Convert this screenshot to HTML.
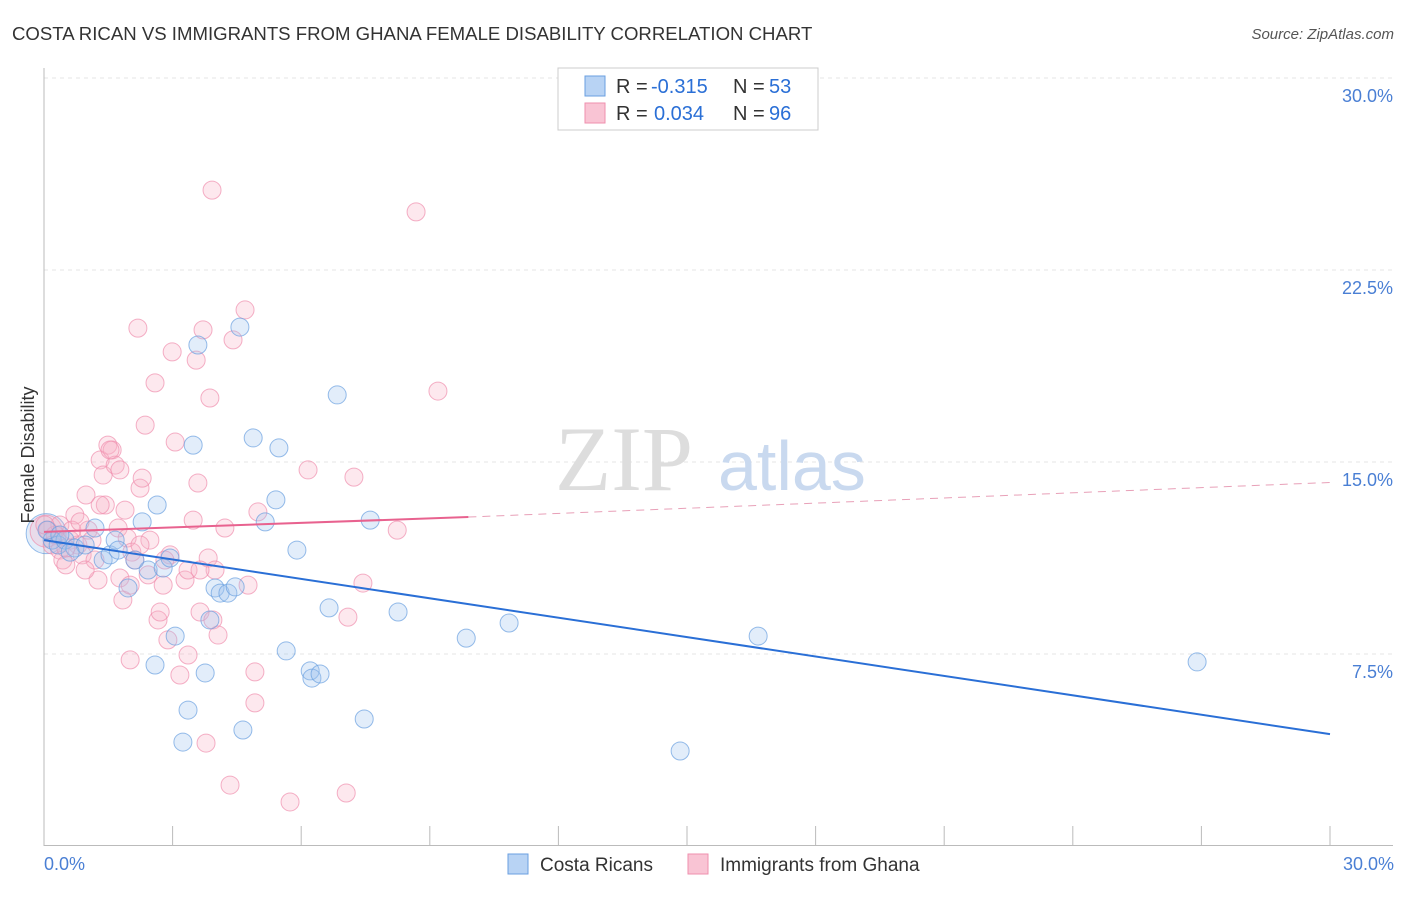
<!DOCTYPE html>
<html><head><meta charset="utf-8"><style>
body{margin:0;background:#fff;font-family:"Liberation Sans",sans-serif;}
svg text{font-family:"Liberation Sans",sans-serif;}
</style></head><body>
<svg width="1406" height="892" viewBox="0 0 1406 892" xmlns="http://www.w3.org/2000/svg">
<text x="12" y="40" font-size="18.6" fill="#333">COSTA RICAN VS IMMIGRANTS FROM GHANA FEMALE DISABILITY CORRELATION CHART</text>
<text x="1394" y="39" font-size="15" fill="#555" font-style="italic" text-anchor="end">Source: ZipAtlas.com</text>
<g id="grid"></g>
<g id="axes"></g>
<text x="555" y="490" font-size="92" fill="#ddd" style="font-family:'Liberation Serif',serif">ZIP</text>
<text x="718" y="490" font-size="70" fill="#c9d9ef">atlas</text>
<g id="pts"></g>
<g id="lines"></g>
<text x="-455" y="34" transform="rotate(-90)" font-size="18" fill="#333" text-anchor="middle">Female Disability</text>
<text x="44" y="870" font-size="18" fill="#4a7fd4">0.0%</text>
<text x="1394" y="870" font-size="18" fill="#4a7fd4" text-anchor="end">30.0%</text>
<g>
<rect x="558" y="68" width="260" height="62" fill="#fff" stroke="#ccc"/>
<rect x="585" y="76" width="20" height="20" fill="#b8d3f4" stroke="#6a9fe0"/>
<rect x="585" y="103" width="20" height="20" fill="#f9c4d4" stroke="#ef8fae"/>
<text x="616" y="93" font-size="20" fill="#333">R =</text>
<text x="651" y="93" font-size="20" fill="#2a6fd6">-0.315</text>
<text x="733" y="93" font-size="20" fill="#333">N =</text>
<text x="769" y="93" font-size="20" fill="#2a6fd6">53</text>
<text x="616" y="120" font-size="20" fill="#333">R =</text>
<text x="654" y="120" font-size="20" fill="#2a6fd6">0.034</text>
<text x="733" y="120" font-size="20" fill="#333">N =</text>
<text x="769" y="120" font-size="20" fill="#2a6fd6">96</text>
</g>
<g>
<rect x="508" y="854" width="20" height="20" fill="#b8d3f4" stroke="#6a9fe0"/>
<text x="540" y="871" font-size="19" fill="#333">Costa Ricans</text>
<rect x="688" y="854" width="20" height="20" fill="#f9c4d4" stroke="#ef8fae"/>
<text x="720" y="871" font-size="19" fill="#333">Immigrants from Ghana</text>
</g>
</svg>
<script>
const yTicks=[7.5,15,22.5,30];
const yTickLabels=["7.5%","15.0%","22.5%","30.0%"];
const blueX=[0.19,0.33,0.49,0.72,0.96,1.19,1.38,1.54,1.66,1.73,1.96,2.12,2.29,2.43,2.59,2.64,2.78,2.94,3.06,3.24,3.36,3.48,3.59,3.76,3.87,3.99,4.11,4.29,4.46,4.57,4.64,4.88,5.16,5.41,5.48,5.65,5.90,6.21,6.25,6.44,6.65,6.84,7.47,7.61,8.26,9.85,10.85,14.84,16.66,26.90,0.07,0.37,0.61];
const blueY=[11.95,11.76,11.95,11.64,11.76,12.42,11.17,11.37,11.95,11.56,10.08,11.17,12.66,10.78,7.07,13.32,10.86,11.25,8.20,4.06,5.31,15.66,19.57,6.76,8.83,10.08,9.88,9.88,10.12,20.27,4.53,15.94,12.66,13.52,15.55,7.62,11.56,6.84,6.56,6.72,9.30,17.62,4.96,12.73,9.14,8.12,8.71,3.71,8.20,7.19,12.34,12.15,11.48];
const pinkX=[0.09,0.19,0.26,0.37,0.44,0.51,0.61,0.72,0.79,0.89,0.98,1.03,1.12,1.19,1.26,1.31,1.38,1.43,1.49,1.59,1.66,1.73,1.77,1.84,1.89,1.94,2.01,2.05,2.12,2.19,2.24,2.29,2.36,2.43,2.59,2.66,2.71,2.78,2.89,2.94,2.99,3.06,3.17,3.29,3.36,3.48,3.55,3.59,3.64,3.71,3.78,3.83,3.87,3.92,3.94,3.99,4.06,4.22,4.34,4.41,4.69,4.76,4.92,4.92,4.99,5.74,6.16,7.05,7.09,7.23,7.44,8.24,8.68,9.19,0.37,0.51,0.65,0.84,0.96,1.54,1.31,2.47,2.82,3.36,1.77,2.01,2.24,3.64,0.02];
const pinkY=[12.34,11.76,12.15,11.56,11.17,10.98,11.95,12.93,11.76,11.37,13.71,12.34,11.95,11.17,10.39,15.08,14.49,13.32,15.66,15.47,14.88,12.42,10.47,9.61,13.12,12.03,7.27,11.48,11.17,20.23,13.98,14.37,16.44,10.59,18.09,8.83,9.14,10.19,8.05,11.37,19.30,15.78,6.68,10.39,7.46,12.73,18.98,14.18,9.14,20.16,4.02,11.25,17.50,25.62,8.83,10.78,8.24,12.42,2.38,19.77,20.94,10.19,6.80,5.59,13.05,1.72,14.69,2.07,8.94,14.41,10.27,12.34,24.77,17.77,12.54,11.64,12.34,12.66,10.78,15.47,13.32,11.95,11.17,10.78,14.69,10.19,11.76,10.78,12.54];
const blueLineX=[0,30], blueLineY=[11.95,4.37];
const pinkLineX=[0,9.9,30], pinkLineY=[12.27,12.85,14.2];
const NS="http://www.w3.org/2000/svg";
const X0=44,X1=1330,Y0=846,Y1=78;
const sx=v=>X0+v/30*(X1-X0), sy=v=>Y0-v/30*(Y0-Y1);
function mk(t,a,p){const e=document.createElementNS(NS,t);for(const k in a)e.setAttribute(k,a[k]);p.appendChild(e);return e;}
const grid=document.getElementById('grid');
yTicks.forEach((t,i)=>{
 const l=mk('line',{x1:44,x2:1393,y1:sy(t),y2:sy(t),stroke:'#e4e4e4','stroke-dasharray':'4,4'},grid);
 
 
 const tx=mk('text',{x:1393,y:sy(t)+24,'font-size':18,fill:'#4a7fd4','text-anchor':'end'},grid);
 tx.textContent=yTickLabels[i];
 
 
});
const axes=document.getElementById('axes');
mk('line',{x1:44,x2:44,y1:68,y2:846,stroke:'#bbb'},axes);
mk('line',{x1:44,x2:1393,y1:845.5,y2:845.5,stroke:'#bbb'},axes);
for(let i=1;i<=10;i++){const x=sx(i*3);const t=mk('line',{x1:x,x2:x,y1:826,y2:846,stroke:'#bbb'},axes);
 
 }
const pts=document.getElementById('pts');
function dot(x,y,r,f,s,name){const c=mk('circle',{cx:sx(x),cy:sy(y),r:r,fill:f,stroke:s,'stroke-width':1,'stroke-opacity':0.7},pts);
 
 }
dot(0.05,12.2,20,'rgba(160,196,240,0.3)','#6a9fe0','blue-point-large');
dot(0.05,12.3,16,'rgba(248,180,200,0.3)','#ef8fae','pink-point-large');
pinkX.forEach((x,i)=>dot(x,pinkY[i],9,'rgba(248,180,200,0.3)','#ef8fae','pink-point'));
blueX.forEach((x,i)=>dot(x,blueY[i],9,'rgba(160,196,240,0.3)','#6a9fe0','blue-point'));
const lines=document.getElementById('lines');
const bl=mk('line',{x1:sx(blueLineX[0]),y1:sy(blueLineY[0]),x2:sx(blueLineX[1]),y2:sy(blueLineY[1]),stroke:'#2a6fd6','stroke-width':2},lines);


const pl=mk('line',{x1:sx(pinkLineX[0]),y1:sy(pinkLineY[0]),x2:sx(pinkLineX[1]),y2:sy(pinkLineY[1]),stroke:'#e8628f','stroke-width':2},lines);


const pd=mk('line',{x1:sx(pinkLineX[1]),y1:sy(pinkLineY[1]),x2:sx(pinkLineX[2]),y2:sy(pinkLineY[2]),stroke:'#e8a0b8','stroke-width':1,'stroke-dasharray':'8,6'},lines);


</script>
</body></html>
